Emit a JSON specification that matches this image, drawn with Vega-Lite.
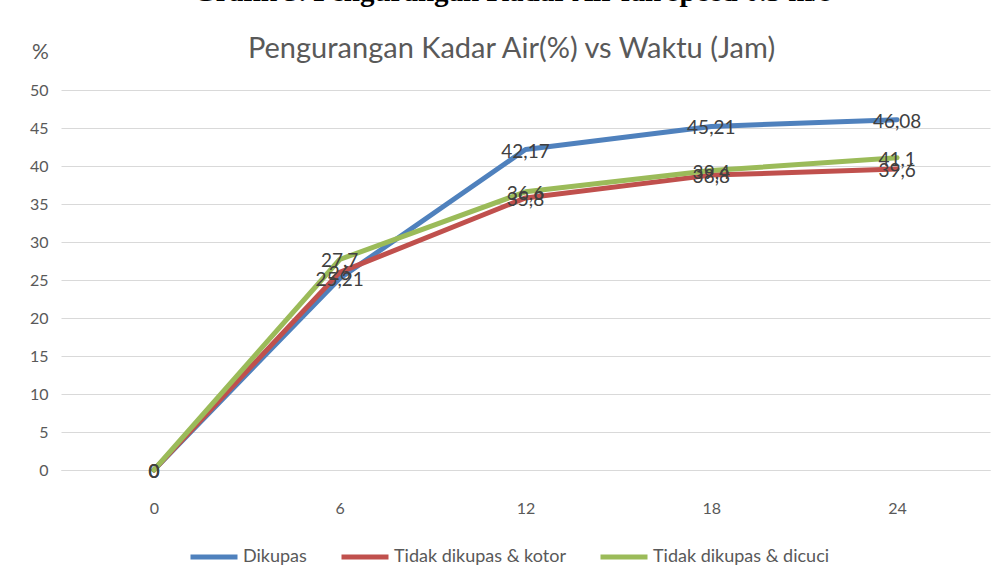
{
  "$schema": "https://vega.github.io/schema/vega-lite/v6.json",
  "width": 929,
  "height": 380,
  "autosize": {"type": "none"},
  "padding": {"left": 61, "top": 90, "right": 13, "bottom": 98},
  "background": "white",
  "title": {
    "text": "Grafik 3. Pengurangan Kadar Air fan speed 0.5 m/s",
    "font": "Liberation Serif",
    "fontSize": 29,
    "fontWeight": "bold",
    "color": "#000000",
    "anchor": "middle",
    "frame": "group",
    "dx": -13,
    "baseline": "alphabetic",
    "offset": 4
  },
  "data": {
    "values": [
      {"jam": 0, "seri": "Dikupas", "nilai": 0},
      {"jam": 6, "seri": "Dikupas", "nilai": 25.21},
      {"jam": 12, "seri": "Dikupas", "nilai": 42.17},
      {"jam": 18, "seri": "Dikupas", "nilai": 45.21},
      {"jam": 24, "seri": "Dikupas", "nilai": 46.08},
      {"jam": 0, "seri": "Tidak dikupas & kotor", "nilai": 0},
      {"jam": 6, "seri": "Tidak dikupas & kotor", "nilai": 26},
      {"jam": 12, "seri": "Tidak dikupas & kotor", "nilai": 35.8},
      {"jam": 18, "seri": "Tidak dikupas & kotor", "nilai": 38.8},
      {"jam": 24, "seri": "Tidak dikupas & kotor", "nilai": 39.6},
      {"jam": 0, "seri": "Tidak dikupas & dicuci", "nilai": 0},
      {"jam": 6, "seri": "Tidak dikupas & dicuci", "nilai": 27.7},
      {"jam": 12, "seri": "Tidak dikupas & dicuci", "nilai": 36.6},
      {"jam": 18, "seri": "Tidak dikupas & dicuci", "nilai": 39.4},
      {"jam": 24, "seri": "Tidak dikupas & dicuci", "nilai": 41.1}
    ]
  },
  "resolve": {"axis": {"x": "independent"}},
  "layer": [
    {
      "mark": {"type": "line", "strokeWidth": 5, "strokeCap": "round", "strokeJoin": "round"},
      "encoding": {
        "x": {
          "field": "jam", "type": "ordinal",
          "scale": {"type": "point", "padding": 0.5},
          "axis": {
            "orient": "bottom", "title": null, "labelAngle": 0, "ticks": false,
            "domain": true, "domainColor": "#d9d9d9", "domainWidth": 1,
            "grid": false, "labelPadding": 30, "labelBaseline": "top",
            "labelFont": "Lato", "labelFontSize": 16, "labelColor": "#595959"
          }
        },
        "y": {
          "field": "nilai", "type": "quantitative",
          "scale": {"domain": [0, 50], "nice": false},
          "axis": {
            "values": [0, 5, 10, 15, 20, 25, 30, 35, 40, 45, 50],
            "labelOverlap": false,
            "title": "%", "titleAngle": 0, "titleX": -21, "titleY": -38,
            "titleAlign": "center", "titleBaseline": "middle",
            "titleFont": "Lato", "titleFontSize": 21, "titleFontWeight": "normal", "titleColor": "#595959",
            "ticks": false, "domain": false, "grid": true, "gridColor": "#d9d9d9", "gridWidth": 1,
            "labelPadding": 13, "labelFont": "Lato", "labelFontSize": 16, "labelColor": "#595959"
          }
        },
        "color": {
          "field": "seri", "type": "nominal",
          "scale": {
            "domain": ["Dikupas", "Tidak dikupas & kotor", "Tidak dikupas & dicuci"],
            "range": ["#4F81BD", "#C0504D", "#9BBB59"]
          },
          "legend": {
            "title": null, "orient": "none", "direction": "horizontal",
            "legendX": 127, "legendY": 441,
            "symbolType": "stroke", "symbolSize": 2209, "symbolStrokeWidth": 5,
            "labelFont": "Lato", "labelFontSize": 18, "labelColor": "#595959",
            "labelLimit": 0, "labelOffset": 3, "columnPadding": 24
          }
        }
      }
    },
    {
      "mark": {"type": "text", "align": "center", "baseline": "middle", "dy": 2, "font": "Lato", "fontSize": 19, "color": "#404040"},
      "encoding": {
        "x": {
          "field": "jam", "type": "ordinal",
          "scale": {"type": "point", "padding": 0.5},
          "axis": {
            "orient": "top", "labels": false, "ticks": false, "domain": false, "grid": false,
            "title": "Pengurangan Kadar Air(%) vs Waktu (Jam)",
            "titleX": 450, "titleY": -33, "titleAlign": "center", "titleBaseline": "alphabetic",
            "titleFont": "Lato", "titleFontSize": 29, "titleFontWeight": "normal", "titleColor": "#595959"
          }
        },
        "y": {
          "field": "nilai", "type": "quantitative",
          "scale": {"domain": [0, 50], "nice": false},
          "axis": {
            "values": [0, 5, 10, 15, 20, 25, 30, 35, 40, 45, 50],
            "labelOverlap": false,
            "title": "%", "titleAngle": 0, "titleX": -21, "titleY": -38,
            "titleAlign": "center", "titleBaseline": "middle",
            "titleFont": "Lato", "titleFontSize": 21, "titleFontWeight": "normal", "titleColor": "#595959",
            "ticks": false, "domain": false, "grid": true, "gridColor": "#d9d9d9", "gridWidth": 1,
            "labelPadding": 13, "labelFont": "Lato", "labelFontSize": 16, "labelColor": "#595959"
          }
        },
        "text": {"field": "nilai", "type": "quantitative", "format": "~g"}
      }
    }
  ],
  "config": {
    "view": {"stroke": null},
    "locale": {"number": {"decimal": ",", "thousands": ".", "grouping": [3], "currency": ["", ""]}}
  }
}
